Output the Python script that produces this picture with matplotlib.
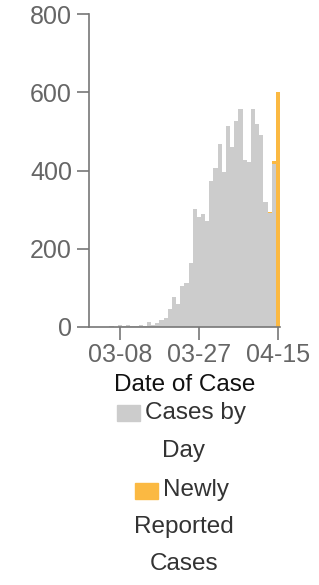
import datetime as dt
import matplotlib
matplotlib.use("Agg")
import matplotlib.pyplot as plt
from matplotlib.patches import Rectangle

plt.rcParams['font.family'] = ['Liberation Sans', 'DejaVu Sans']

# daily counts, 2020-03-01 .. 2020-04-15
start = dt.date(2020, 3, 1)
cases_by_day = [0, 0, 0, 0, 0, 2, 0, 4, 3, 4, 2, 2, 4, 1, 12, 4, 9, 17, 22, 45,
                76, 58, 104, 112, 163, 302, 281, 289, 271, 374, 407, 469, 397,
                515, 461, 527, 558, 426, 422, 558, 518, 491, 320, 291, 417, 0]
newly_reported = [0] * 43 + [3, 8, 602]
tick_dates = ["03-08", "03-27", "04-15"]
y_ticks = [0, 200, 400, 600, 800]

days = [start + dt.timedelta(days=i) for i in range(len(cases_by_day))]
labels = [d.strftime("%m-%d") for d in days]
x = list(range(len(days)))

W, H = 319, 585
fig = plt.figure(figsize=(W / 100, H / 100), dpi=100)
ax = fig.add_axes([88.7 / W, 1 - 326.7 / H, (280 - 88.7) / W, (326.7 - 14.3) / H])

grey = '#cccccc'
orange = '#fbb942'
ax.bar(x, cases_by_day, width=1.0, color=grey, linewidth=0)
ax.bar(x, newly_reported, width=1.0, bottom=cases_by_day, color=orange, linewidth=0)

ax.set_xlim(-0.5, len(days) - 0.5)
ax.set_ylim(0, 800)
ax.set_yticks(y_ticks)
ax.set_xticks([labels.index(t) for t in tick_dates])
ax.set_xticklabels(tick_dates)

for s in ['top', 'right']:
    ax.spines[s].set_visible(False)
for s in ['left', 'bottom']:
    ax.spines[s].set_color('#777777')
    ax.spines[s].set_linewidth(1.2)
ax.tick_params(length=9, width=1.2, color='#777777', labelcolor='#666666',
               labelsize=18, pad=3)
ax.set_xlabel("Date of Case", fontsize=17.5, color='#111111', labelpad=5)

# legend drawn by hand
def px_rect(x0, y0, w, h, c):
    fig.patches.append(Rectangle((x0 / W, 1 - (y0 + h) / H), w / W, h / H,
                                 transform=fig.transFigure, color=c))

def px_text(xp, yp, s, ha):
    fig.text(xp / W, 1 - yp / H, s, ha=ha, va='center', fontsize=17.5,
             color='#333333')

px_rect(117, 405, 23, 16, grey)
px_text(145, 413, "Cases by", 'left')
px_text(184, 451, "Day", 'center')
px_rect(135, 483, 23, 16, orange)
px_text(163, 490, "Newly", 'left')
px_text(184, 527, "Reported", 'center')
px_text(184, 564, "Cases", 'center')

fig.savefig("out.png", dpi=100)
